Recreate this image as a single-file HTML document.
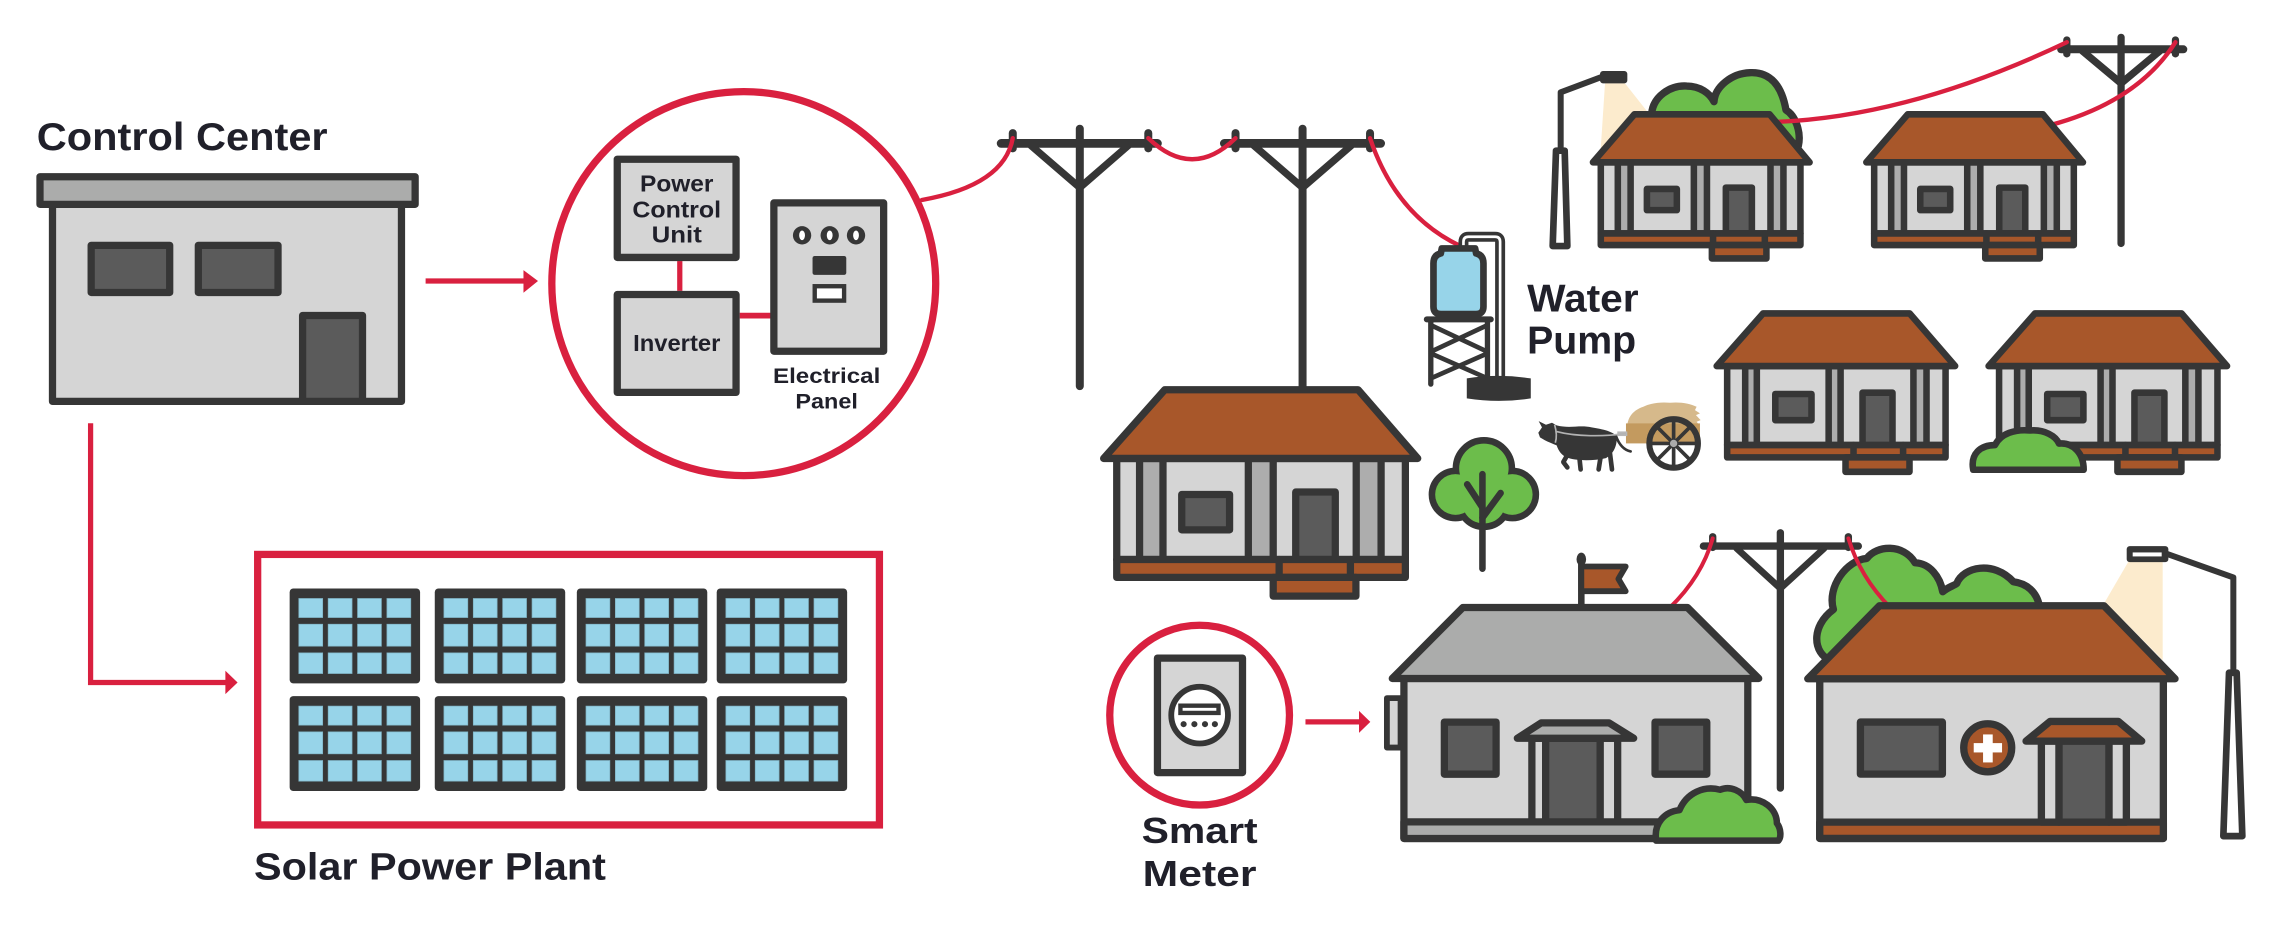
<!DOCTYPE html>
<html><head><meta charset="utf-8"><style>
html,body{margin:0;padding:0;background:#fff;}
svg{display:block;}
text{font-family:"Liberation Sans",Arial,sans-serif;font-weight:bold;fill:#20202a;}
.o{stroke:#363636;stroke-width:5;stroke-linejoin:round;stroke-linecap:round;}
.s{stroke:#363636;stroke-width:4.5;stroke-linejoin:round;stroke-linecap:round;}
.lg{fill:#d5d5d5}.mg{fill:#adadad}.dg{fill:#5b5b5b}.br{fill:#a8572a}.gr{fill:#6cbd4b}
</style></head><body>
<svg width="2280" height="925" viewBox="0 0 1568 636" preserveAspectRatio="none" xmlns="http://www.w3.org/2000/svg">
<defs>
<g id="pn">
<rect x="0" y="0" width="89.7" height="65.3" rx="2.5" fill="#363636"/>
<g fill="#97d4e9" stroke="#7fb3c4" stroke-width="0.5">
<rect x="6.3" y="6.9" width="16.4" height="13.1"/><rect x="26.5" y="6.9" width="16.4" height="13.1"/><rect x="46.7" y="6.9" width="16.4" height="13.1"/><rect x="66.9" y="6.9" width="16.4" height="13.1"/>
<rect x="6.3" y="24.6" width="16.4" height="15.1"/><rect x="26.5" y="24.6" width="16.4" height="15.1"/><rect x="46.7" y="24.6" width="16.4" height="15.1"/><rect x="66.9" y="24.6" width="16.4" height="15.1"/>
<rect x="6.3" y="44.3" width="16.4" height="14.2"/><rect x="26.5" y="44.3" width="16.4" height="14.2"/><rect x="46.7" y="44.3" width="16.4" height="14.2"/><rect x="66.9" y="44.3" width="16.4" height="14.2"/>
</g></g>
<g id="hA">
<rect class="s lg" x="1100.9" y="111.6" width="137.3" height="48.9"/>
<rect class="s mg" x="1112.6" y="111.6" width="8.8" height="48.9"/>
<rect class="s mg" x="1164.9" y="111.6" width="9" height="48.9"/>
<rect class="s mg" x="1217.6" y="111.6" width="8.9" height="48.9"/>
<rect class="s dg" x="1132.6" y="129.9" width="20.6" height="14.6"/>
<rect class="s dg" x="1186.9" y="129" width="17.9" height="31.5"/>
<rect class="s br" x="1100.9" y="160.5" width="137.3" height="8"/>
<line class="s" x1="1178.1" y1="160.5" x2="1178.1" y2="168.5"/>
<line class="s" x1="1213.7" y1="160.5" x2="1213.7" y2="168.5"/>
<rect class="s br" x="1177.3" y="168.5" width="37.5" height="9.2"/>
<polygon class="s br" points="1124,78.6 1217,78.6 1244.5,111.6 1095.5,111.6"/>
</g>
<g id="hC">
<rect class="s lg" x="1187.8" y="251.7" width="150.2" height="54.3"/>
<rect class="s mg" x="1200.2" y="251.7" width="8" height="54.3"/>
<rect class="s mg" x="1257.6" y="251.7" width="8.2" height="54.3"/>
<rect class="s mg" x="1315.9" y="251.7" width="9" height="54.3"/>
<rect class="s dg" x="1220.9" y="270.9" width="24.9" height="18"/>
<rect class="s dg" x="1280.9" y="270" width="20.6" height="36"/>
<rect class="s br" x="1187.8" y="306" width="150.2" height="8.5"/>
<line class="s" x1="1274.7" y1="306" x2="1274.7" y2="314.5"/>
<line class="s" x1="1308.8" y1="306" x2="1308.8" y2="314.5"/>
<rect class="s br" x="1269.2" y="314.5" width="44" height="9.9"/>
<polygon class="s br" points="1212.5,215.5 1313.3,215.5 1344.6,251.7 1180.6,251.7"/>
</g>
</defs>

<!-- red connectors -->
<g stroke="#d9203f" fill="none" stroke-width="3.6">
<line x1="292.7" y1="193.2" x2="362" y2="193.2"/>
<polyline points="62.3,291 62.3,469.3 157,469.3"/>
<line x1="897.8" y1="496.3" x2="936" y2="496.3"/>
</g>
<g fill="#d9203f">
<polygon points="360,185.7 370,193.2 360,201.3"/>
<polygon points="155,461.2 163.4,469.3 155,477.3"/>
<polygon points="934.6,488.8 942.4,496.3 934.6,503.9"/>
</g>

<!-- Control center -->
<text x="25.3" y="103" font-size="27" textLength="200" lengthAdjust="spacingAndGlyphs">Control Center</text>
<rect class="o lg" x="36.1" y="140" width="240" height="136"/>
<rect class="o" fill="#abacab" x="27.5" y="121.5" width="258" height="19"/>
<rect class="o dg" x="62.7" y="168.7" width="54" height="32.4"/>
<rect class="o dg" x="136.4" y="168.7" width="54.8" height="32.4"/>
<rect class="o dg" x="208.1" y="216.9" width="41.2" height="59.1"/>

<!-- Circle unit -->
<circle cx="511.5" cy="195" r="132" fill="none" stroke="#d9203f" stroke-width="5"/>
<line x1="467.5" y1="179.5" x2="467.5" y2="200" stroke="#d9203f" stroke-width="3.6"/>
<line x1="508.7" y1="217" x2="530" y2="217" stroke="#d9203f" stroke-width="4"/>
<rect class="o lg" x="424.5" y="109.5" width="81.7" height="67.5"/>
<rect class="o lg" x="424.5" y="202.5" width="81.7" height="67.3"/>
<rect class="o lg" x="532.2" y="139.5" width="75.5" height="102"/>
<g fill="#363636">
<circle cx="551.6" cy="161.8" r="6.3"/><circle cx="570.6" cy="161.8" r="6.3"/><circle cx="588.7" cy="161.8" r="6.3"/>
<rect x="558.8" y="176" width="23.2" height="13" rx="1.5"/>
</g>
<g fill="#fff">
<ellipse cx="551.6" cy="161.8" rx="2" ry="3.3"/><ellipse cx="570.6" cy="161.8" rx="2" ry="3.3"/><ellipse cx="588.7" cy="161.8" rx="2" ry="3.3"/>
</g>
<rect x="560.3" y="196.8" width="20.2" height="9.9" fill="#fff" stroke="#363636" stroke-width="3"/>
<text x="465.4" y="131.8" font-size="16" text-anchor="middle" textLength="50.5" lengthAdjust="spacingAndGlyphs">Power</text>
<text x="465.4" y="149.5" font-size="16" text-anchor="middle" textLength="61" lengthAdjust="spacingAndGlyphs">Control</text>
<text x="465.4" y="166.9" font-size="16" text-anchor="middle" textLength="34.5" lengthAdjust="spacingAndGlyphs">Unit</text>
<text x="465.4" y="241.2" font-size="16" text-anchor="middle" textLength="60" lengthAdjust="spacingAndGlyphs">Inverter</text>
<text x="568.5" y="263.2" font-size="14.5" text-anchor="middle" textLength="73.8" lengthAdjust="spacingAndGlyphs">Electrical</text>
<text x="568.5" y="281" font-size="14.5" text-anchor="middle" textLength="43" lengthAdjust="spacingAndGlyphs">Panel</text>

<!-- Solar plant -->
<rect x="177.2" y="381.2" width="427.6" height="186" fill="none" stroke="#d9203f" stroke-width="5"/>
<use href="#pn" x="199.2" y="404.6"/><use href="#pn" x="299" y="404.6"/><use href="#pn" x="396.7" y="404.6"/><use href="#pn" x="492.9" y="404.6"/>
<use href="#pn" x="199.2" y="478.6"/><use href="#pn" x="299" y="478.6"/><use href="#pn" x="396.7" y="478.6"/><use href="#pn" x="492.9" y="478.6"/>
<text x="174.7" y="604.7" font-size="26" textLength="242" lengthAdjust="spacingAndGlyphs">Solar Power Plant</text>

<!-- Poles 1 & 2 -->
<g stroke="#363636" stroke-linecap="round" fill="none">
<line x1="742.6" y1="88.5" x2="742.6" y2="265.5" stroke-width="5.5"/>
<line x1="688.5" y1="98.6" x2="796" y2="98.6" stroke-width="6"/>
<line x1="709" y1="100" x2="742.6" y2="129" stroke-width="5"/>
<line x1="776" y1="100" x2="742.6" y2="129" stroke-width="5"/>
<line x1="696.5" y1="91.5" x2="696.5" y2="102" stroke-width="5.5"/>
<line x1="789.7" y1="91.5" x2="789.7" y2="102" stroke-width="5.5"/>
<line x1="895.8" y1="88.5" x2="895.8" y2="270" stroke-width="5.5"/>
<line x1="842" y1="98.6" x2="949.5" y2="98.6" stroke-width="6"/>
<line x1="862.3" y1="100" x2="895.8" y2="129" stroke-width="5"/>
<line x1="929.3" y1="100" x2="895.8" y2="129" stroke-width="5"/>
<line x1="849.7" y1="91.5" x2="849.7" y2="102" stroke-width="5.5"/>
<line x1="942.2" y1="91.5" x2="942.2" y2="102" stroke-width="5.5"/>
</g>
<g stroke="#d9203f" stroke-width="3" fill="none" stroke-linecap="round">
<path d="M634 137.5 C665 132 692 120 696.5 95"/>
<path d="M789.7 95 Q820 124 849.7 95"/>
<path d="M942.2 95 Q960 148 1004 169"/>
</g>

<!-- Center house -->
<rect class="o lg" x="768" y="315.2" width="198.5" height="69.5"/>
<rect class="o mg" x="783.7" y="315.2" width="16.1" height="69.5"/>
<rect class="o mg" x="858.5" y="315.2" width="17.1" height="69.5"/>
<rect class="o mg" x="932.7" y="315.2" width="17.1" height="69.5"/>
<rect class="o dg" x="812.7" y="340" width="32.9" height="24.3"/>
<rect class="o dg" x="891.1" y="338.3" width="27.2" height="46.4"/>
<rect class="o br" x="768" y="384.7" width="198.5" height="12.3"/>
<line class="o" x1="879.7" y1="384.7" x2="879.7" y2="397"/>
<line class="o" x1="928.7" y1="384.7" x2="928.7" y2="397"/>
<rect class="o br" x="875.6" y="397" width="56.9" height="12.9"/>
<polygon class="o br" points="801,268 934,268 975,315.2 759,315.2"/>

<!-- Water tower -->
<g transform="translate(962.9 158.2) scale(0.2292)">
<path d="M190 62 L190 35 Q190 20 205 20 L285 20 Q300 20 300 35 L300 445" fill="none" stroke="#363636" stroke-width="30"/>
<path d="M190 62 L190 35 Q190 20 205 20 L285 20 Q300 20 300 35 L300 445" fill="none" stroke="#fff" stroke-width="8"/>
<path d="M125 55 L225 55 L228 70 Q250 75 250 100 L250 230 Q250 252 228 252 L122 252 Q100 252 100 230 L100 100 Q100 75 122 70 Z" fill="#97d4e9" stroke="#363636" stroke-width="20" stroke-linejoin="round"/>
<g stroke="#363636" stroke-linecap="round" fill="none">
<line x1="80" y1="268" x2="272" y2="268" stroke-width="18"/>
<line x1="92" y1="268" x2="92" y2="462" stroke-width="16"/>
<line x1="262" y1="268" x2="262" y2="440" stroke-width="16"/>
<line x1="92" y1="285" x2="262" y2="365" stroke-width="14"/>
<line x1="262" y1="285" x2="92" y2="365" stroke-width="14"/>
<line x1="92" y1="370" x2="262" y2="445" stroke-width="14"/>
<line x1="262" y1="370" x2="92" y2="445" stroke-width="14"/>
</g>
<path d="M200 445 Q296 430 392 445 L392 505 Q296 520 200 505 Z" fill="#363636"/>
</g>
<text x="1050.2" y="214.3" font-size="26.5" textLength="76.7" lengthAdjust="spacingAndGlyphs">Water</text>
<text x="1050.2" y="243" font-size="26.5" textLength="75" lengthAdjust="spacingAndGlyphs">Pump</text>

<!-- Tree -->
<g>
<g fill="#363636" stroke="#363636" stroke-width="9">
<circle cx="1020.5" cy="322" r="17"/><circle cx="1001" cy="340" r="14"/><circle cx="1040" cy="340" r="14"/><circle cx="1020.5" cy="345" r="15"/>
</g>
<g fill="#6cbd4b">
<circle cx="1020.5" cy="322" r="17"/><circle cx="1001" cy="340" r="14"/><circle cx="1040" cy="340" r="14"/><circle cx="1020.5" cy="345" r="15"/>
</g>
<g stroke="#363636" stroke-width="4.5" stroke-linecap="round" fill="none">
<line x1="1019.5" y1="326" x2="1019.5" y2="391"/>
<line x1="1019.5" y1="349" x2="1009" y2="333"/>
<line x1="1019.5" y1="356" x2="1032" y2="339"/>
</g>
</g>

<!-- Ox cart -->
<g transform="translate(1052.2 268.2) scale(0.2292)">
<path d="M292 105 C295 80 310 60 340 50 C360 40 390 35 420 38 C450 35 480 40 500 50 L495 60 L510 70 L498 75 L512 90 L500 95 L508 105 Z" fill="#d6b98b"/>
<rect x="288" y="100" width="222" height="60" fill="#c39a5f"/>
<rect x="262" y="124" width="30" height="14" fill="#b8b8b8"/>
<path d="M25 128 L36 112 L26 93 L48 104 L66 98 L80 106 C120 116 150 104 185 112 C220 118 250 124 260 140 C262 168 250 192 228 204 C185 214 135 212 110 202 C96 196 86 184 80 166 C68 160 54 156 44 150 L30 142 Z" fill="#363636"/>
<path d="M112 195 L100 216 L112 232 M148 200 L152 238 M212 200 L206 238 M240 190 L246 238" stroke="#363636" stroke-width="14" stroke-linecap="round" stroke-linejoin="round" fill="none"/>
<path d="M258 138 C268 165 282 180 302 184" stroke="#363636" stroke-width="8" stroke-linecap="round" fill="none"/>
<path d="M74 104 C80 125 80 145 76 158 M78 124 C140 140 220 140 288 130" stroke="#b3b3b3" stroke-width="5" fill="none"/>
<g stroke="#363636" stroke-width="11">
<line x1="431" y1="160" x2="501" y2="160"/><line x1="431" y1="160" x2="480.5" y2="209.5"/><line x1="431" y1="160" x2="431" y2="230"/><line x1="431" y1="160" x2="381.5" y2="209.5"/>
<line x1="431" y1="160" x2="361" y2="160"/><line x1="431" y1="160" x2="381.5" y2="110.5"/><line x1="431" y1="160" x2="431" y2="90"/><line x1="431" y1="160" x2="480.5" y2="110.5"/>
</g>
<circle cx="431" cy="160" r="73" fill="none" stroke="#363636" stroke-width="18"/>
<circle cx="431" cy="160" r="11" fill="#aaa"/>
</g>

<!-- Top-left lamp, bush, house A -->
<g transform="translate(1059.1 41.27) scale(0.2292)">
<polygon points="195,70 255,70 330,165 330,300 180,300" fill="#fcebcd"/>
<polyline points="182,52 62,97 62,280" fill="none" stroke="#363636" stroke-width="18" stroke-linejoin="round" stroke-linecap="round"/>
<polygon points="48,272 74,272 82,558 38,558" fill="#fff" stroke="#363636" stroke-width="20" stroke-linejoin="round"/>
<rect x="180" y="33" width="82" height="37" rx="9" fill="#363636"/>
<path d="M345 300 L335 160 C340 110 390 75 440 78 C480 78 510 100 522 125 C525 80 575 40 630 38 C690 35 725 75 738 150 C765 165 785 215 775 258 L700 290 Z" fill="#6cbd4b" stroke="#363636" stroke-width="22" stroke-linejoin="round"/>
</g>
<!-- pole 3 -->
<g stroke="#363636" stroke-linecap="round" fill="none" stroke-width="5">
<line x1="1458.7" y1="25.7" x2="1458.7" y2="167.4"/>
<line x1="1417.5" y1="33.9" x2="1501.5" y2="33.9" stroke-width="5.5"/>
<line x1="1432.1" y1="35" x2="1458.7" y2="57.3"/>
<line x1="1485.4" y1="35" x2="1458.7" y2="57.3"/>
<line x1="1421.4" y1="27.5" x2="1421.4" y2="37"/>
<line x1="1496.1" y1="27.5" x2="1496.1" y2="37"/>
</g>
<g stroke="#d9203f" stroke-width="3" fill="none" stroke-linecap="round">
<path d="M1215 84 Q1310 82 1421.4 29"/>
<path d="M1496.1 29 Q1470 70 1410 86"/>
</g>
<use href="#hA"/>
<use href="#hA" x="188"/>
<use href="#hC"/>
<use href="#hC" x="187"/>
<path class="s gr" d="M1357 323 C1355 312 1362 306 1372 306 C1376 298 1386 295 1396 296 C1406 295 1414 300 1416 305 C1426 304 1433 312 1433 323 Z"/>

<!-- Smart meter -->
<circle cx="825" cy="491.7" r="61.8" fill="none" stroke="#d9203f" stroke-width="5"/>
<rect class="o lg" x="796" y="452.5" width="58.5" height="78.7"/>
<circle cx="825" cy="491.7" r="19.5" fill="#fff" stroke="#363636" stroke-width="4"/>
<rect x="811.8" y="485.2" width="26.2" height="5" fill="#fff" stroke="#363636" stroke-width="3"/>
<g fill="#363636"><circle cx="814" cy="497.9" r="2.1"/><circle cx="821.4" cy="497.9" r="2.1"/><circle cx="828.7" cy="497.9" r="2.1"/><circle cx="835.5" cy="497.9" r="2.1"/></g>
<text x="825" y="579.5" font-size="25" text-anchor="middle" textLength="79.8" lengthAdjust="spacingAndGlyphs">Smart</text>
<text x="825" y="609.3" font-size="25" text-anchor="middle" textLength="78.3" lengthAdjust="spacingAndGlyphs">Meter</text>

<!-- Pole 4 -->
<g transform="translate(1127.9 357.6) scale(0.2292)">
<g stroke="#363636" stroke-linecap="round" fill="none">
<line x1="421" y1="38" x2="421" y2="804" stroke-width="22"/>
<line x1="190" y1="78" x2="655" y2="78" stroke-width="22"/>
<line x1="290" y1="85" x2="421" y2="205" stroke-width="20"/>
<line x1="552" y1="85" x2="421" y2="205" stroke-width="20"/>
<line x1="218" y1="50" x2="218" y2="82" stroke-width="22"/>
<line x1="625" y1="50" x2="625" y2="82" stroke-width="22"/>
</g>
<path d="M218 55 Q185 170 90 262" stroke="#d9203f" stroke-width="12" fill="none" stroke-linecap="round"/>
</g>

<!-- School -->
<line x1="1087.5" y1="385" x2="1087.5" y2="433" stroke="#363636" stroke-width="4.5" stroke-linecap="round"/>
<ellipse cx="1087.5" cy="384.5" rx="3.3" ry="4.5" fill="#363636"/>
<polygon class="o br" style="stroke-width:4" points="1087.5,389.5 1118,389.5 1113,398 1118,406.5 1087.5,406.5"/>
<rect class="o lg" style="stroke-width:4" x="953.8" y="480" width="9.4" height="34"/>
<rect class="o lg" x="965.5" y="466.5" width="236.5" height="110"/>
<rect class="o" fill="#abacab" x="965.5" y="565.1" width="236.5" height="11.4"/>
<rect class="o dg" x="993.3" y="496.5" width="35.6" height="35.8"/>
<rect class="o dg" x="1138.2" y="496.5" width="35.6" height="35.8"/>
<rect class="o lg" x="1053.5" y="507.6" width="9.5" height="57.5"/>
<rect class="o dg" x="1063" y="507.6" width="37.5" height="57.5"/>
<rect class="o lg" x="1100.5" y="507.6" width="12" height="57.5"/>
<polygon class="o" fill="#abacab" points="1060,497 1106.5,497 1123.5,507.6 1043.5,507.6"/>
<polygon class="o" fill="#abacab" points="1006,417.7 1160.5,417.7 1209.5,466.5 957.5,466.5"/>
<path class="s gr" d="M1139 578 C1137 566 1145 558 1155 557 C1160 545 1172 540 1183 543 C1190 540 1198 544 1201 550 C1212 548 1222 556 1222 566 C1225 570 1225 576 1223 578 Z"/>

<!-- Clinic -->
<g transform="translate(1224.2 357.6) scale(0.2292)">
<polygon points="1045,125 1148,125 1148,420 975,245" fill="#fcebcd"/>
<path d="M150 420 C100 400 90 320 160 268 C140 200 200 120 260 115 C290 75 370 70 405 128 C450 130 480 170 488 215 C505 200 520 198 530 190 C550 140 640 120 700 185 C740 190 770 215 778 258 L700 300 L300 300 Z" fill="#6cbd4b" stroke="#363636" stroke-width="22" stroke-linejoin="round"/>
<path d="M205 55 Q240 170 330 262" stroke="#d9203f" stroke-width="12" fill="none" stroke-linecap="round"/>
<g stroke="#363636" stroke-width="22" stroke-linejoin="round">
<rect x="119" y="476" width="1031" height="479" fill="#d5d5d5"/>
<rect x="119" y="906" width="1031" height="49" fill="#a8572a"/>
<rect x="241" y="606" width="246" height="156" fill="#5b5b5b"/>
<circle cx="623" cy="683" r="72" fill="#a8572a"/>
<rect x="784" y="663" width="53" height="243" fill="#d5d5d5"/>
<rect x="837" y="663" width="150" height="243" fill="#5b5b5b"/>
<rect x="987" y="663" width="52" height="243" fill="#d5d5d5"/>
<polygon points="810,604 1015,604 1085,663 738,663" fill="#a8572a"/>
<polygon points="298,257 972,257 1185,476 83,476" fill="#a8572a"/>
</g>
<rect x="581" y="669" width="85" height="28" fill="#fff"/>
<rect x="609" y="643" width="29" height="84" fill="#fff"/>
<polyline points="1157,100 1360,172 1360,455" fill="none" stroke="#363636" stroke-width="18" stroke-linejoin="round" stroke-linecap="round"/>
<polygon points="1347,458 1370,458 1387,948 1330,948" fill="#fff" stroke="#363636" stroke-width="20" stroke-linejoin="round"/>
<rect x="1040" y="78" width="125" height="48" rx="9" fill="#363636"/>
<rect x="1058" y="97" width="87" height="12" fill="#fff"/>
</g>
</svg>
</body></html>
